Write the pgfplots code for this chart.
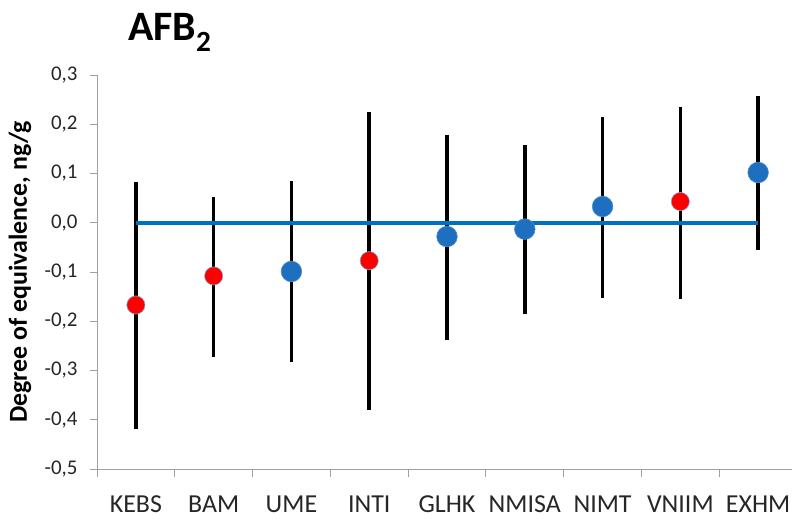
\documentclass[border=0pt]{standalone}
\usepackage{pgfplots}
\pgfplotsset{compat=1.18}
\usepackage{pgfplotstable}
\usepackage{fontspec}
\setmainfont{Carlito}

\definecolor{lineblue}{HTML}{0070C0}
\definecolor{ptblue}{HTML}{1F6FC0}
\definecolor{ptred}{HTML}{FF0000}
\definecolor{axgray}{HTML}{A0A0A0}
\definecolor{txt}{HTML}{262626}

% x  y  err+  err-
\pgfplotstableread{
x y ep em
0 -0.167 0.249 0.252
1 -0.108 0.161 0.164
2 -0.099 0.184 0.183
3 -0.077 0.301 0.304
4 -0.028 0.207 0.210
5 -0.013 0.171 0.173
6  0.033 0.182 0.185
7  0.043 0.193 0.197
8  0.102 0.155 0.157
}\alldata

\pgfplotstableread{
x y
0 -0.167
1 -0.108
3 -0.077
7  0.043
}\reddata

\pgfplotstableread{
x y
2 -0.099
4 -0.028
5 -0.013
6  0.033
8  0.102
}\bluedata

\begin{document}
\begin{tikzpicture}[x=1bp,y=1bp]
\useasboundingbox (0,0) rectangle (792,519);
\begin{axis}[
  at={(97bp,50bp)}, anchor=south west,
  scale only axis, width=700bp, height=394bp,
  xmin=-0.5, xmax=8.5, ymin=-0.5, ymax=0.3,
  axis x line*=bottom, axis y line*=left,
  axis line style={axgray, line width=0.9bp},
  every tick/.style={axgray, line width=0.9bp},
  tick align=outside, major tick length=7bp, minor tick length=8bp,
  xtick={0,...,8},
  xticklabels={KEBS,BAM,UME,INTI,GLHK,NMISA,NIMT,VNIIM,EXHM},
  major x tick style={draw=none},
  minor xtick={-0.5,0.5,...,8.5},
  ytick={-0.5,-0.4,...,0.3},
  /pgf/number format/fixed,
  /pgf/number format/fixed zerofill,
  /pgf/number format/precision=1,
  /pgf/number format/use comma,
  /pgf/number format/assume math mode=true,
  xticklabel style={font=\fontsize{26}{26}\selectfont, text=txt, yshift=-16bp},
  yticklabel style={font=\fontsize{21}{21}\selectfont, text=txt, xshift=-9bp},
  ylabel={\bfseries Degree of equivalence, ng/g},
  ylabel style={at={(rel axis cs:-0.11,0.5)}, anchor=center, font=\fontsize{26}{26}\selectfont, text=black},
  clip=false,
]
% error bars
\addplot[draw=none, mark=none, forget plot,
  error bars/.cd, y dir=both, y explicit, error mark=none,
  error bar style={black, line width=3.6bp}]
  table[x=x, y=y, y error plus=ep, y error minus=em] {\alldata};
% zero line
\addplot[lineblue, line width=4bp, mark=none] coordinates {(0,0) (8,0)};
% points
\addplot[only marks, mark=*, mark size=10.3bp, mark options={fill=ptblue, draw=ptblue!80!white, line width=0.6bp}]
  table[x=x, y=y] {\bluedata};
\addplot[only marks, mark=*, mark size=9.1bp, mark options={fill=ptred, draw=ptblue!60!white, line width=0.6bp}]
  table[x=x, y=y] {\reddata};
\end{axis}
\node[anchor=base west, font=\fontsize{42}{42}\selectfont\bfseries, inner sep=0] at (128,478) {AFB\textsubscript{2}};
\end{tikzpicture}
\end{document}
